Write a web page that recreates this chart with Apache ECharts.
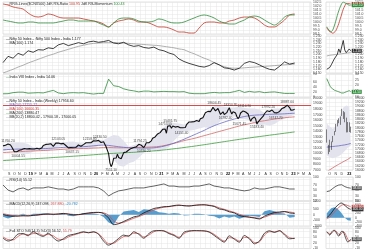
<!DOCTYPE html>
<html><head><meta charset="utf-8">
<script src="https://cdn.jsdelivr.net/npm/echarts@6/dist/echarts.min.js"></script>
<style>html,body{margin:0;padding:0;background:#fff}#c{width:370px;height:250px}</style>
</head><body><div id="c"></div>
<script>
// ---------- DATA ----------
const startDate = '2018-08-03';
const totalWeeks = 246;
const sampleStep = 4;
const smallStart = '2022-09-23';
const smallSlots = 18;

const price = [11360,11430,11470,11557,11680,11589,11515,11143,10930,10316,10472,10303,10030,10553,10585,10682,10526,10876,10693,10805,10754,10859,
10727,10794,10907,10780,10893,10944,10724,10792,10863,11035,11427,11457,11624,11666,11643,11753,11755,11712,11279,11407,11844,11923,11871,11823,11724,11789,11811,11552,11419,11284,10997,11109,11048,10829,11023,10946,11076,11274,11512,11175,11305,11662,11584,11891,11908,11895,11914,12056,11922,12087,12272,12246,
12226,12257,12352,12248,11962,12098,12113,12080,11202,10989,9955,8300,7600,8084,9112,9267,9154,9860,9251,9137,9039,9580,10142,9972,10244,10383,10607,10768,10901,11194,11073,11214,11178,11372,11647,11333,11464,11504,11050,11417,11914,11762,11930,11642,12263,12720,12859,12969,13258,13514,13761,13749,
14018,14347,14433,14372,13635,14924,15163,14982,14529,14938,15031,14744,14507,14867,14835,14617,14341,14631,14823,14677,15175,15436,15670,15799,15683,15860,15722,15690,15924,15856,15763,16238,16529,16450,16705,17324,17369,17585,17853,17532,17895,18338,18114,17672,17916,18102,17765,17026,17197,17511,17003,17004,17354,
17812,18256,17617,17102,17516,17374,17276,16658,16245,16630,17287,17153,17670,17784,17476,17172,17103,16411,15782,16266,16352,16584,16202,15294,15699,15752,16220,16049,16719,17158,17398,17698,17758,17559,17539,17833,17531,17327,17094,17315,17186,17576,17787,18117,18350,18308,18512,18697,18497,18269,17807,18105,
17859,17957];

const ma50 = [10650,10700,10745,10780,10800,10815,10820,10835,10860,10900,10955,11020,11080,11120,11140,11170,11210,11280,11370,11450,11500,11440,11320,11200,11100,11020,10980,10960,10945,10950,11000,11120,11300,11550,11850,12200,12550,12950,13350,13750,14150,14600,15000,15350,15650,15950,16200,16450,16650,16800,16900,16950,17000,17050,17080,17100,17140,17200,17255];
const ma100 = [10150,10200,10260,10300,10350,10400,10440,10480,10520,10570,10620,10680,10740,10790,10830,10860,10890,10920,10960,11000,11050,11050,11020,11000,11000,11020,11050,11080,11100,11130,11170,11250,11400,11600,11800,12050,12300,12500,12700,12950,13200,13450,13700,13950,14200,14450,14700,14950,15150,15350,15550,15750,15900,16050,16200,16330,16430,16520,16600];
const ma200 = [8700,8755,8815,8880,8930,8985,9030,9085,9130,9185,9250,9310,9365,9430,9490,9545,9610,9680,9750,9815,9890,9950,10000,10045,10100,10150,10195,10260,10320,10375,10450,10530,10620,10720,10830,10940,11060,11180,11300,11430,11560,11700,11840,11980,12120,12260,12400,12530,12660,12790,12920,13040,13160,13285,13400,13520,13640,13760,13880];
const bbUpper = [11600,11800,11900,11950,11900,11700,11100,11000,11350,11900,11950,12000,11950,12100,12150,11900,11750,12100,12350,12450,12400,12900,13300,13200,12300,11200,11500,11800,11800,11900,12800,13900,14700,15500,15500,15400,15200,15600,16000,16200,16700,17800,18500,18600,18400,18300,18300,18400,18200,18100,18100,17900,17300,17800,18100,18100,18500,18800,18800];
const bbLower = [10400,10600,10600,10150,9900,9900,10300,10550,10450,10400,10850,11200,11350,11100,10750,10700,10750,10700,10950,11350,11700,10700,8900,7800,7600,8200,8500,9200,10100,10700,10400,10300,10700,11100,12300,13200,14000,14100,14200,14500,14700,14600,14900,15600,16400,16700,16700,16200,16200,16000,15400,15000,15200,15000,15300,15900,16300,16600,17000];
const resistance = 18604.45;

const annWeeks = [4,12,44,55,69,77,86,109,112,129,133,142,168,177,181,188,192,202,211,217,226];
const annValues = [11760.20,10004.55,12103.05,10637.15,12158.80,12430.50,7511.10,11794.25,10790.20,14753.55,15431.75,14151.40,18604.45,16782.40,18350.95,15671.45,18114.90,15183.40,17992.20,16747.70,18887.60];
const annKinds = ['H','L','H','L','H','H','L','H','L','H','H','L','H','L','H','L','H','L','H','L','H'];

const rrgRatio = [102.25,102.12,101.88,101.75,101.62,101.12,100.75,100.62,100.75,101.0,100.88,100.62,100.5,100.5,100.5,100.5,100.38,100.25,100.12,100.0,99.75,99.38,99.88,100.12,100.25,100.38,100.25,100.0,100.0,99.88,99.62,99.38,99.38,99.25,99.0,98.75,98.75,98.62,98.62,99.25,99.88,100.0,100.0,99.88,99.88,100.12,100.25,100.5,100.62,100.62,100.5,100.12,99.62,99.38,99.38,99.75,100.25,100.88,101.0];
const rrgMom = [100.25,100.12,100.0,99.88,99.88,100.0,100.0,99.88,99.88,99.88,99.88,100.0,100.12,100.25,100.25,100.12,100.12,100.12,100.12,99.88,99.62,99.38,99.88,100.38,100.5,100.5,100.38,100.12,100.0,100.0,100.12,100.38,100.25,100.0,99.88,99.88,100.0,100.25,100.5,100.75,100.88,100.75,100.5,100.12,99.88,99.75,99.75,100.0,100.25,100.62,100.75,100.62,100.25,99.88,99.62,100.0,100.62,100.88,100.88];

const relRatio = [1.178,1.195,1.190,1.203,1.198,1.210,1.206,1.213,1.212,1.218,1.216,1.226,1.230,1.224,1.228,1.232,1.229,1.234,1.236,1.233,1.235,1.238,1.231,1.229,1.233,1.226,1.222,1.224,1.219,1.217,1.220,1.213,1.210,1.204,1.200,1.188,1.181,1.176,1.172,1.168,1.166,1.170,1.178,1.172,1.164,1.162,1.158,1.163,1.176,1.181,1.178,1.172,1.165,1.160,1.158,1.168,1.180,1.174,1.177];
const relMA = [1.150,1.155,1.160,1.166,1.171,1.177,1.182,1.187,1.192,1.197,1.201,1.206,1.210,1.214,1.218,1.222,1.225,1.228,1.230,1.231,1.232,1.232,1.232,1.232,1.231,1.230,1.229,1.228,1.227,1.226,1.225,1.224,1.222,1.220,1.218,1.215,1.213,1.207,1.202,1.196,1.190,1.185,1.178,1.172,1.167,1.164,1.163,1.163,1.164,1.165,1.166,1.167,1.168,1.169,1.170,1.171,1.172,1.173,1.174];

const vix = [12.5,13,17,19,19,15,16,17,16,21,26,16,13,16,17,16,17,14,11.5,14,14,70,44,41,32,27,24,20,23,23,20,21,22,21,21,20,21,15,13,13,13,16,18,16,17,17,21,26,18,22,19,21,17,19,20,17,14,14,14];

const rsi = [70,51,44,55,59,51,59,59,59,63,59,55,55,51,55,63,63,63,63,59,48,29,40,48,51,55,59,59,59,63,66,70,74,66,66,63,63,63,66,66,70,74,66,63,59,59,55,51,48,51,59,55,55,59,63,63,59,55,55];

const macdLine = [24,-100,-145,-120,-90,-110,-60,-20,40,60,24,60,108,40,-20,0,80,150,192,200,100,-300,-880,-800,-600,-400,-200,-100,150,350,540,620,700,720,800,840,780,760,820,860,870,800,720,500,420,250,150,-80,-180,-230,-300,-380,-130,40,190,230,276,150,100];
const macdSignal = [80,0,-90,-120,-110,-100,-80,-40,10,40,40,50,80,70,20,0,40,110,160,190,160,-50,-550,-750,-680,-500,-320,-170,0,220,420,560,650,700,760,810,800,775,800,840,860,830,760,600,470,330,200,30,-110,-200,-260,-320,-220,-60,100,190,250,230,160];
const macdHist = [-180,-340,-190,0,70,-35,70,70,100,70,-50,35,95,-100,-140,0,140,140,110,35,-200,-700,-900,-170,280,340,400,240,480,440,400,200,170,70,140,100,-70,-50,70,70,35,-100,-140,-340,-170,-270,-170,-370,-240,-100,-140,-200,300,400,300,140,90,-270,-200];

const stoK = [46,30,40,68,70,58,80,65,55,72,48,30,42,60,66,73,80,74,80,66,30,8,22,44,62,56,80,66,45,70,85,86,84,70,60,45,78,84,86,85,84,78,60,40,24,58,40,24,60,42,15,30,72,85,76,86,62,42,45];
const stoD = [52,38,36,55,68,64,70,70,60,66,58,40,38,52,62,70,77,76,78,70,42,16,18,36,54,58,72,70,52,62,80,86,85,74,64,50,70,82,85,86,85,80,66,46,30,48,44,30,50,46,22,26,62,80,80,84,68,48,44];

// small right-hand panels (weekly, Sep 2022 - Jan 2023)
const smallOHLC = [[17877,17327,17291,17919],[17156,17094,16747,17187],[17095,17315,16855,17428],[17094,17186,16950,17348],[17397,17576,17312,17607],[17736,17787,17637,17838],[17910,18117,17800,18176],[18211,18350,18060,18362],[18330,18308,18210,18442],[18300,18512,18133,18529],[18552,18697,18552,18888],[18719,18497,18410,18781],[18500,18269,18255,18728],[18288,17807,17774,18473],[17831,18105,17780,18265],[18131,17859,17795,18252],[17953,17957,17762,18049]];
const smallMA50 = [17080,17090,17095,17100,17110,17115,17125,17130,17140,17150,17165,17175,17185,17200,17215,17235,17255];
const smallMA100 = [15900,15960,16010,16050,16100,16140,16190,16230,16270,16310,16350,16390,16430,16465,16500,16540,16600];
const smallBBUp = [18200,18150,18050,18000,17950,17950,18050,18250,18450,18600,18800,18950,19000,19050,19050,19000,18950];
const smallBBLow = [16700,16650,16600,16550,16550,16600,16600,16600,16650,16700,16750,16850,16900,17000,17050,17100,17150];
const smallRRGRatio = [99.3,99.0,98.8,98.7,98.6,98.7,98.9,99.3,99.8,100.4,101.0,101.6,102.0,102.3,102.3,102.3,102.25];
const smallRRGMom = [99.4,99.1,98.9,98.8,99.0,99.5,100.1,100.8,101.4,101.9,102.3,102.5,102.4,102.3,102.2,102.1,102.1];
const smallRel = [1.160,1.158,1.165,1.172,1.180,1.188,1.192,1.200,1.215,1.205,1.210,1.238,1.212,1.205,1.208,1.215,1.210];
const smallRelMA = [1.196,1.197,1.198,1.198,1.199,1.199,1.200,1.200,1.201,1.201,1.202,1.202,1.203,1.203,1.204,1.204,1.205];
const smallVix = [26,23,20,18,17,16,15.5,15,14.5,14,13.5,13.5,14,14.5,15,15.5,14.5];
const smallRsi = [45,42,48,52,57,62,65,68,70,72,71,66,64,58,60,57,58];
const smallMacd = [0,60,130,220,320,420,500,580,640,690,700,660,600,520,470,430,400];
const smallSignal = [-60,-20,30,100,180,260,340,420,490,550,600,630,630,610,580,550,520];
const smallHist = [200,300,380,450,480,500,480,440,380,300,200,100,0,-80,-120,-140,-150];
const smallK = [80,70,62,75,85,88,80,66,56,72,82,80,60,38,25,30,40];
const smallD = [78,74,68,70,78,84,84,76,66,64,72,80,74,58,40,30,32];

// ---------- BUILD ----------
function weekDates(start, n){
  const t0 = Date.parse(start + 'T00:00:00Z'); const out = [];
  for (let w = 0; w < n; w++) out.push(new Date(t0 + w*7*86400000).toISOString().slice(0,10));
  return out;
}
const mainDates = weekDates(startDate, totalWeeks);
const smallDates = weekDates(smallStart, smallSlots);
const MONTHS = 'JFMAMJJASOND';
function isMonthStart(dates, i){ return i > 0 && dates[i].slice(5,7) !== dates[i-1].slice(5,7); }
function sparse(arr){ return arr.map((v,i)=>[i*sampleStep, v]); }

const FONT = 'Liberation Sans';
const rows = [{top:2,h:32},{top:36,h:37},{top:74,h:23},{top:98,h:72},{top:177,h:24},{top:201,h:25},{top:228,h:26}];
const grids = [];
rows.forEach(r => grids.push({left:3, top:r.top, width:308, height:r.h, show:true, borderColor:'#c4c4c4', borderWidth:0.5}));
rows.forEach(r => grids.push({left:326, top:r.top, width:27, height:r.h, show:true, borderColor:'#c4c4c4', borderWidth:0.5}));

const xAxes = [];
for (let g = 0; g < 7; g++) {
  xAxes.push({gridIndex:g, type:'category', data:mainDates, boundaryGap:false,
    axisLine:{show:false}, axisTick:{show:false},
    splitLine:{show:true, interval:(i)=>isMonthStart(mainDates,i), lineStyle:{color:'#e4e4e4', width:0.5}},
    axisLabel: g===3 ? {show:true, interval:(i)=>isMonthStart(mainDates,i), margin:2, fontSize:3.6, fontFamily:FONT, color:'#333',
      formatter:(v)=>{const m=+v.slice(5,7); return m===1 ? '{b|'+v.slice(2,4)+'}' : MONTHS[m-1];},
      rich:{b:{fontWeight:'bold', fontSize:3.8, fontFamily:FONT, color:'#000'}}} : {show:false}});
}
for (let g = 0; g < 7; g++) {
  xAxes.push({gridIndex:7+g, type:'category', data:smallDates, boundaryGap:true,
    axisLine:{show:false}, axisTick:{show:false},
    splitLine:{show:true, interval:(i)=>isMonthStart(smallDates,i), lineStyle:{color:'#e4e4e4', width:0.5}},
    axisLabel: g===3 ? {show:true, interval:(i)=>isMonthStart(smallDates,i), margin:2, fontSize:3.6, fontFamily:FONT, color:'#333',
      formatter:(v)=>{const m=+v.slice(5,7); return m===1 ? '{b|'+v.slice(2,4)+'}' : MONTHS[m-1];},
      rich:{b:{fontWeight:'bold', fontSize:3.8, fontFamily:FONT, color:'#000'}}} : {show:false}});
}

function yAx(g, min, max, interval, dec){
  return {gridIndex:g, type:'value', position:'right', min, max, interval,
    axisLine:{show:false}, axisTick:{show:false},
    splitLine:{show:true, lineStyle:{color:'#e4e4e4', width:0.5}},
    axisLabel:{fontSize:3.4, fontFamily:FONT, color:'#444', margin:2, showMaxLabel:true,
      formatter:(v)=> dec==null ? String(Math.round(v)) : v.toFixed(dec)}};
}
const yAxes = [
  yAx(0, 98.5, 102.5, 0.5, 1), yAx(1, 1.15, 1.25, 0.01, 3), yAx(2, 0, 90, 20), yAx(3, 7000, 20000, 1000),
  yAx(4, 10, 100, 20), yAx(5, -1000, 1200, 500), yAx(6, -10, 100, 30),
  yAx(7, 98.5, 102.5, 0.5, 1), yAx(8, 1.15, 1.25, 0.01, 3), yAx(9, 10, 30, 5), yAx(10, 16000, 19400, 200),
  yAx(11, 10, 100, 20), yAx(12, -400, 800, 200), yAx(13, -10, 100, 30)
];

function line(g, data, color, width, extra){
  return Object.assign({type:'line', xAxisIndex:g, yAxisIndex:g, data, symbol:'none', silent:true,
    lineStyle:{color, width}, z:3}, extra||{});
}
function endLab(color, dec){
  return {endLabel:{show:true, formatter:(p)=>{const v=Array.isArray(p.value)?p.value[1]:p.value; return v.toFixed(dec);},
    backgroundColor:color, color:'#fff', fontSize:3.2, fontFamily:FONT, padding:[0.5,1], distance:1}};
}

const series = [];
// RRG
series.push(line(0, sparse(rrgRatio), '#c0392b', 0.8, {smooth:0.3}));
series.push(line(0, sparse(rrgMom), '#2e8b3a', 0.8, {smooth:0.3}));
// Ratio
series.push(line(1, sparse(relMA), '#9a9a9a', 0.8, {smooth:0.3}));
series.push(line(1, sparse(relRatio), '#111', 0.8));
// VIX
series.push(line(2, sparse(vix), '#2e8b3a', 0.8));
// Main: BB band
series.push(line(3, sparse(bbLower), '#000', 0, {stack:'bb', lineStyle:{width:0, opacity:0}, z:1}));
series.push(line(3, bbUpper.map((u,i)=>[i*sampleStep, u - bbLower[i]]), '#000', 0,
  {stack:'bb', lineStyle:{width:0, opacity:0}, areaStyle:{color:'#e3e3ee', opacity:1}, z:1}));
series.push(line(3, sparse(ma200), '#3c9a3c', 0.8, {smooth:0.3}));
series.push(line(3, sparse(ma100), '#d06868', 0.8, {smooth:0.3}));
series.push(line(3, sparse(ma50), '#6b6bbf', 0.8, {smooth:0.3}));
series.push(line(3, price, '#111', 1.1, {z:5,
  markLine:{silent:true, symbol:'none', label:{show:false}, lineStyle:{color:'#d03a3a', width:0.9, type:'solid'}, data:[{yAxis:resistance}]}}));
series.push({type:'scatter', xAxisIndex:3, yAxisIndex:3, symbolSize:0, silent:true, z:6,
  data: annWeeks.map((w,i)=>({value:[w, annValues[i]], label:{position: annKinds[i]==='H' ? 'top' : 'bottom'}})),
  label:{show:true, distance:1, fontSize:3.3, fontFamily:FONT, color:'#222', formatter:(p)=>p.value[1].toFixed(2)}});
// RSI
series.push(line(4, sparse(rsi), '#222', 0.7));
// MACD
series.push(line(5, sparse(macdHist), '#3a8cc4', 0, {lineStyle:{width:0}, areaStyle:{color:'#3a8cc4', opacity:0.85, origin:0}, z:2}));
series.push(line(5, sparse(macdSignal), '#d05050', 0.8, {smooth:0.3}));
series.push(line(5, sparse(macdLine), '#111', 0.8, {smooth:0.3}));
// Stoch
series.push(line(6, sparse(stoD), '#d05050', 0.8, {smooth:0.3}));
series.push(line(6, sparse(stoK), '#222', 0.8, {smooth:0.3}));

// small panels
series.push(line(7, smallRRGRatio, '#c0392b', 0.8, Object.assign({smooth:0.3}, endLab('#c0392b',2))));
series.push(line(7, smallRRGMom, '#2e8b3a', 0.8, Object.assign({smooth:0.3}, endLab('#2e8b3a',2))));
series.push(line(8, smallRelMA, '#9a9a9a', 0.8));
series.push(line(8, smallRel, '#111', 0.8, endLab('#333',3)));
series.push(line(9, smallVix, '#2e8b3a', 0.8, Object.assign({smooth:0.3}, endLab('#2e8b3a',2))));
series.push(line(10, smallBBLow, '#000', 0, {stack:'sbb', lineStyle:{width:0, opacity:0}, z:1}));
series.push(line(10, smallBBUp.map((u,i)=>u - smallBBLow[i]), '#000', 0, {stack:'sbb', lineStyle:{width:0, opacity:0}, areaStyle:{color:'#e3e3ee', opacity:1}, z:1}));
series.push(line(10, smallMA100, '#d06868', 0.8));
series.push(line(10, smallMA50, '#6b6bbf', 0.8));
series.push({type:'candlestick', xAxisIndex:10, yAxisIndex:10, data:smallOHLC, barWidth:1.1, silent:true, z:5,
  itemStyle:{color:'#fff', color0:'#111', borderColor:'#111', borderColor0:'#111', borderWidth:0.5}});
series.push(line(11, smallRsi, '#222', 0.7, endLab('#555',2)));
series.push(line(12, smallHist, '#3a8cc4', 0, {lineStyle:{width:0}, areaStyle:{color:'#3a8cc4', opacity:0.85, origin:0}, z:2}));
series.push(line(12, smallSignal, '#d05050', 0.8, Object.assign({smooth:0.3}, endLab('#d05050',2))));
series.push(line(12, smallMacd, '#111', 0.8, Object.assign({smooth:0.3}, endLab('#333',2))));
series.push(line(13, smallD, '#d05050', 0.8, {smooth:0.3}));
series.push(line(13, smallK, '#222', 0.8, Object.assign({smooth:0.3}, endLab('#555',2))));

// legends (text)
function txt(x, y, text, rich){
  return {type:'text', left:x, top:y, z:20, silent:true,
    style:{text, fill:'#222', font:'3.6px "'+FONT+'"', rich: rich||{}}};
}
const R = (c)=>({fill:c, font:'3.6px "'+FONT+'"'});
const graphic = [
  txt(6, 2, '{r|—}RRG-Lines($CNX500) JdK RS-Ratio {r|100.95} JdK RS-Momentum {g|100.43}', {r:R('#c0392b'), g:R('#2e8b3a')}),
  txt(6, 37, '{k|—}Nifty 50 Index - :Nifty 500 Index - India 1.177', {k:R('#111')}),
  txt(6, 41, '{m|—}MA(100) 1.174', {m:R('#9a9a9a')}),
  txt(6, 75, '{g|—}India VIX Index - India 14.06', {g:R('#2e8b3a')}),
  txt(6, 99, '{k|—}Nifty 50 Index - India (Weekly) 17956.60', {k:R('#111')}),
  txt(6, 103, '{p|—MA(50) 17255.12}', {p:R('#6b6bbf')}),
  txt(6, 107, '{r|—MA(100) 16600.35}', {r:R('#d03a3a')}),
  txt(6, 111, '{g|—}MA(200) 13880.47', {g:R('#3c9a3c')}),
  txt(6, 115, '{b|—}BB(20,2) 18800.42 - 17900.18 - 17000.05', {b:R('#8888aa')}),
  txt(6, 178, '{k|—}RSI(14) 55.12', {k:R('#222')}),
  txt(6, 202, '{k|—}MACD(12,26,9) 247.098, {r|267.880}, {b|-20.782}', {k:R('#111'), r:R('#d05050'), b:R('#3a8cc4')}),
  txt(6, 229, '{k|—}Full STO %K(14,3) %D(3) 56.52, {r|55.79}', {k:R('#222'), r:R('#d05050')})
];

const chart = echarts.init(document.getElementById('c'), null, {renderer:'canvas'});
chart.setOption({animation:false, backgroundColor:'#fff', grid:grids, xAxis:xAxes, yAxis:yAxes, series, graphic});
</script></body></html>
